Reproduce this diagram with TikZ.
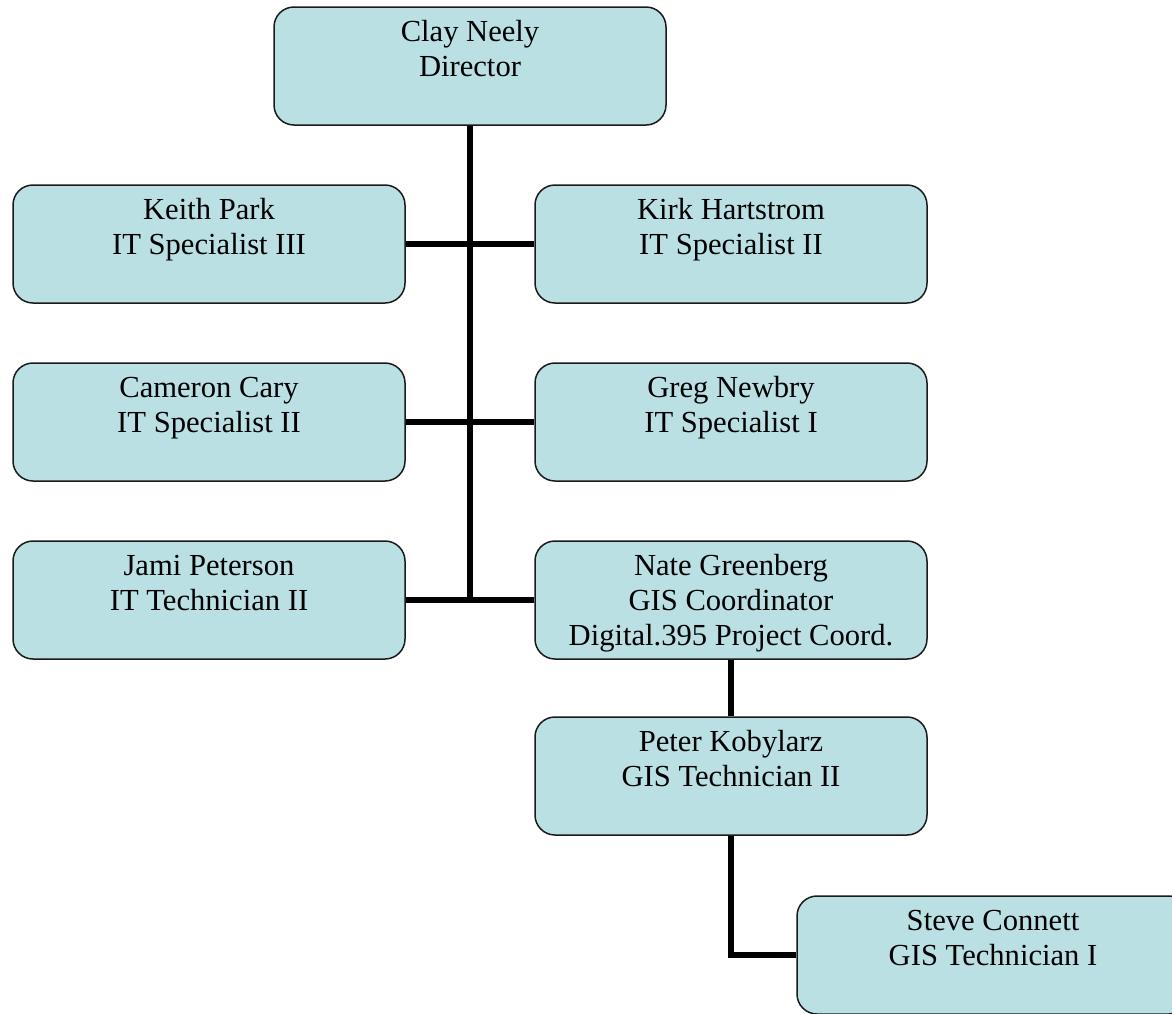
\documentclass[tikz,border=0pt]{standalone}
\usepackage{fontspec}
\setmainfont{Liberation Serif}
\definecolor{boxfill}{RGB}{186,224,228}
\definecolor{boxline}{RGB}{26,26,26}
% box content: fixed-size block, text hung from the top edge
\newcommand\staffbox[1]{\parbox[c][118pt][t]{392pt}{\centering\rule{0pt}{34pt}#1}}
\tikzset{
  staff/.style={draw=boxline, fill=boxfill, line width=1.5pt, rounded corners=20pt,
                inner sep=0pt, font=\fontsize{30.6pt}{35pt}\selectfont},
  link/.style={line width=5.5pt, black}
}
\begin{document}
\begin{tikzpicture}[x=1pt, y=-1pt]
\useasboundingbox (0,0) rectangle (1172,1013);
\clip (0,0) rectangle (1172,1013);
% staff boxes
\node[staff] (clay)    at (470,66)  {\staffbox{Clay Neely\\Director}};
\node[staff] (keith)   at (209,244) {\staffbox{Keith Park\\IT Specialist III}};
\node[staff] (kirk)    at (731,244) {\staffbox{Kirk Hartstrom\\IT Specialist II}};
\node[staff] (cameron) at (209,422) {\staffbox{Cameron Cary\\IT Specialist II}};
\node[staff] (greg)    at (731,422) {\staffbox{Greg Newbry\\IT Specialist I}};
\node[staff] (jami)    at (209,600) {\staffbox{Jami Peterson\\IT Technician II}};
\node[staff] (nate)    at (731,600) {\staffbox{Nate Greenberg\\GIS Coordinator\\Digital.395 Project Coord.}};
\node[staff] (peter)   at (731,776) {\staffbox{Peter Kobylarz\\GIS Technician II}};
\node[staff] (steve)   at (993,955) {\staffbox{Steve Connett\\GIS Technician I}};
% reporting lines
\draw[link] (clay.south) -- (clay.south |- jami.east);
\draw[link] (keith.east) -- (kirk.west);
\draw[link] (cameron.east) -- (greg.west);
\draw[link] (jami.east) -- (nate.west);
\draw[link] (nate.south) -- (peter.north);
\draw[link] (peter.south) |- (steve.west);
\end{tikzpicture}
\end{document}
